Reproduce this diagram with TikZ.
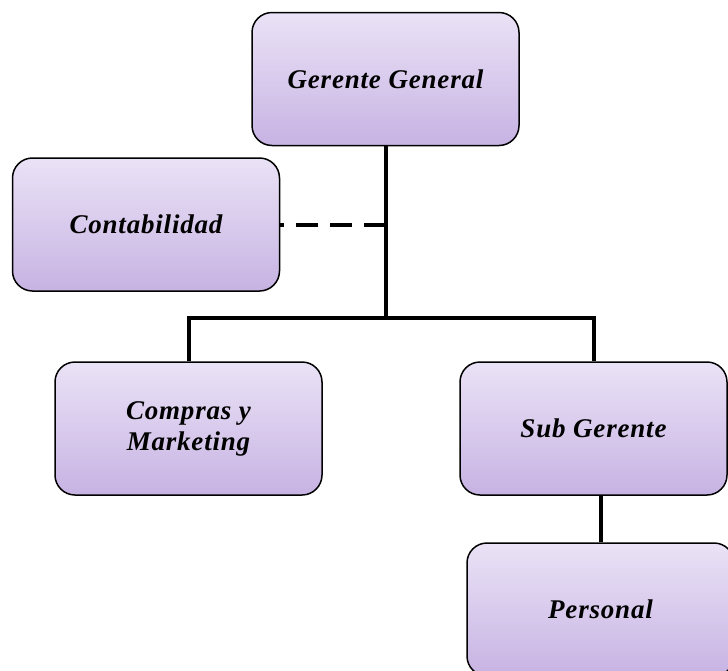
\documentclass[tikz,border=0pt]{standalone}
\usepackage{fontspec}
\setmainfont{Liberation Serif}
\newfontfamily\cargofont[LetterSpace=3]{Liberation Serif}
\usepackage{tikz}
\usetikzlibrary{positioning}

\definecolor{boxtop}{HTML}{EAE2F6}
\definecolor{boxbottom}{HTML}{C7B3E3}

\begin{document}
\begin{tikzpicture}[
  x=1pt, y=-1pt,
  cargo/.style={rectangle, rounded corners=20pt, draw=black, line width=1.5pt,
    top color=boxtop, bottom color=boxbottom, minimum width=267pt,
    minimum height=133pt, align=center,
    font=\cargofont\bfseries\itshape\fontsize{27}{31}\selectfont},
  link/.style={line width=4pt},
  dashlink/.style={line width=4pt, dash pattern=on 22pt off 12pt, dash phase=18pt}
]
\useasboundingbox (0,0) rectangle (728,670);

\node[cargo] (gg) at (385.5,79) {Gerente General};
\node[cargo] (cont) at (146,224.5) {Contabilidad};
\node[cargo] (cm) at (188.5,428.5) {Compras y\\Marketing};
\node[cargo] (sg) at (593.5,428.5) {Sub Gerente};
\node[cargo] (pers) at (600.5,609.5) {Personal};

\coordinate (j) at (385.5,318);

\draw[link] (gg.south) -- (j);
\draw[dashlink] (cont.east) -- (cont.east -| gg.south);
\draw[link] (j) -| (cm.north);
\draw[link] (j) -| (sg.north);
\draw[link] (pers.north) -- (pers.north |- sg.south);
\end{tikzpicture}
\end{document}
